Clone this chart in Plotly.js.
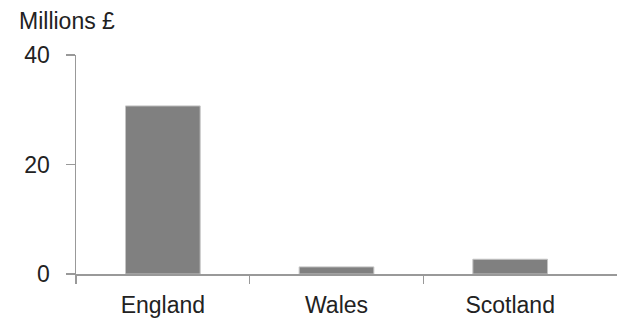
<!DOCTYPE html>
<html>
<head>
<meta charset="utf-8">
<script src="https://cdn.plot.ly/plotly-3.0.1.min.js"></script>
<style>html,body{margin:0;padding:0;background:#fff;}#chart{width:617px;height:320px;}</style>
</head>
<body>
<div id="chart"></div>
<script>
const categories = ["England", "Wales", "Scotland"];
const positions = [0, 1, 2];
const values = [30.7, 1.3, 2.7];
const yTicks = [0, 20, 40];
const boundaryTicks = [-0.5, 0.5, 1.5];
const unitLabel = "Millions £";

const font = {family: "Liberation Sans, Arial, sans-serif", size: 23, color: "#222"};
const axisColor = "#999";

const trace = {
  type: "bar",
  x: positions,
  y: values,
  width: 0.43,
  marker: {color: "#808080", line: {color: "#c4c4c4", width: 1}},
  hoverinfo: "skip"
};
// invisible trace to activate the overlay axis with boundary ticks
const ghost = {
  type: "scatter", mode: "markers", x: positions, y: values,
  xaxis: "x2", marker: {opacity: 0}, hoverinfo: "skip", showlegend: false
};

const xRange = [-0.5, 2.615];

const layout = {
  width: 617, height: 320,
  margin: {l: 76, r: 0, t: 55, b: 46, pad: 0},
  paper_bgcolor: "#fff", plot_bgcolor: "#fff",
  showlegend: false,
  font: font,
  xaxis: {
    range: xRange, tickvals: positions, ticktext: categories,
    ticks: "", showline: true, linecolor: axisColor, linewidth: 1.5,
    showgrid: false, zeroline: false, tickfont: font, ticklabelstandoff: 10,
    fixedrange: true
  },
  xaxis2: {
    overlaying: "x", side: "bottom", range: xRange, tickvals: boundaryTicks,
    ticks: "outside", ticklen: 9, tickcolor: axisColor, tickwidth: 1.5,
    showticklabels: false, showline: false, showgrid: false, zeroline: false
  },
  yaxis: {
    range: [0, 40], tickvals: yTicks, ticks: "outside", ticklen: 9,
    tickcolor: axisColor, tickwidth: 1.5, showline: true, linecolor: axisColor, linewidth: 1.5,
    showgrid: false, zeroline: false, tickfont: font, ticklabelstandoff: 11,
    fixedrange: true
  },
  annotations: [{
    text: unitLabel, xref: "paper", yref: "paper",
    x: -0.109, y: 1.085, xanchor: "left", yanchor: "bottom",
    showarrow: false, font: font
  }]
};

Plotly.newPlot("chart", [trace, ghost], layout, {displayModeBar: false, staticPlot: true});
</script>
</body>
</html>
